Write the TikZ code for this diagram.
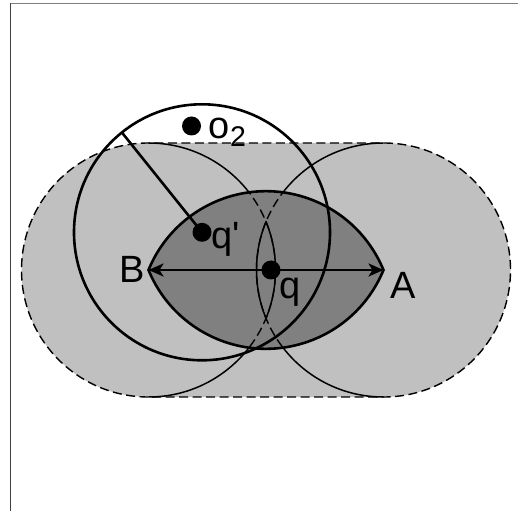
\documentclass[tikz,border=0pt]{standalone}
\usepackage{fontspec}
\newfontfamily\lblfont{Liberation Sans}
\usetikzlibrary{arrows.meta,calc}
\definecolor{lightfill}{gray}{0.753}
\definecolor{darkfill}{gray}{0.5}
\definecolor{frametop}{gray}{0.5}
\definecolor{frameleft}{gray}{0.25}
\begin{document}
\begin{tikzpicture}[x=1pt,y=1pt,
  lbl/.style={inner sep=0pt, anchor=base west, font=\lblfont\fontsize{38}{38}\selectfont},
  thickline/.style={line width=2.6pt},
  thinline/.style={line width=1.5pt},
  dashline/.style={line width=1.4pt, dash pattern=on 9pt off 4.5pt},
  dotnode/.style={circle, fill=black, inner sep=0pt, minimum size=19pt},
]
\useasboundingbox (0,0) rectangle (518,511);
\def\R{127}
\coordinate (B) at (148.5,241);
\coordinate (A) at (383.5,241);
\coordinate (qp) at (202,278.7);
\coordinate (rend) at ($(qp)+(128.75:128)$);
\def\lenspath{(B) arc[start angle=157.69,end angle=22.31,radius=\R] arc[start angle=-22.31,end angle=-157.69,radius=\R] -- cycle}
\def\stadium{(148.5,114) arc[start angle=-90,end angle=-270,radius=\R] -- (383.5,368) arc[start angle=90,end angle=-90,radius=\R] -- cycle}
% frame
\draw[line width=1.3pt, frametop] (10,507.3) -- (518,507.3);
\draw[line width=1.3pt, frameleft] (10.5,507.9) -- (10.5,0);
% stadium fill
\fill[lightfill] \stadium;
% inner halves
\draw[thinline] ($(B)+(0,\R)$) arc[start angle=90,end angle=-90,radius=\R];
\draw[thinline] ($(A)+(0,\R)$) arc[start angle=90,end angle=270,radius=\R];
% lens
\fill[darkfill] \lenspath;
\begin{scope}
  \clip \lenspath;
  \draw[dashline] (B) circle[radius=\R];
  \draw[dashline] (A) circle[radius=\R];
\end{scope}
\begin{scope}
  \clip (B) circle[radius=\R];
  \draw[thinline] (A) circle[radius=\R];
\end{scope}
\begin{scope}
  \clip (A) circle[radius=\R];
  \draw[thinline] (B) circle[radius=\R];
\end{scope}
\draw[thickline] \lenspath;
% stadium outline
\draw[dashline] \stadium;
% big circle
\draw[thickline] (qp) circle[radius=128];
\draw[thickline] (qp) -- (rend);
% arrow
\draw[thickline, {Stealth[length=15pt,width=13pt,inset=4pt]}-{Stealth[length=15pt,width=13pt,inset=4pt]}] (B) -- (A);
% dots
\node[dotnode] (o2) at (191.5,385) {};
\node[dotnode] (qpdot) at (qp) {};
\node[dotnode] (qdot) at (271,241) {};
% labels
\node[lbl] (labB) at (119,228) {B};
\node[lbl] (labA) at (390,212.5) {A};
\node[lbl] (labq) at (279.5,212.3) {q};
\node[lbl] (labqp) at (211.5,262.3) {q'};
\node[lbl] (labo) at (208.7,372.7) {o\raisebox{-8.4pt}{\fontsize{28.5}{28.5}\selectfont 2}};
\end{tikzpicture}
\end{document}
